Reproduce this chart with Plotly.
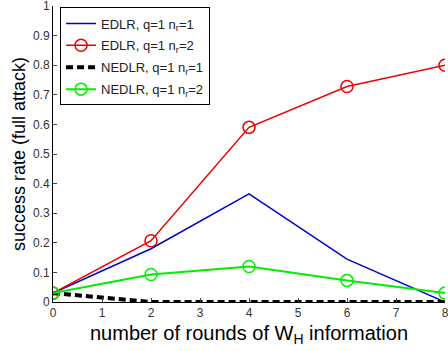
import plotly.graph_objects as go

rounds = [0, 2, 4, 6, 8]
edlr_nr1 = [0.03, 0.18, 0.365, 0.145, 0.0]
edlr_nr2 = [0.03, 0.207, 0.59, 0.728, 0.80]
nedlr_nr1 = [0.03, 0.0, 0.0, 0.0, 0.0]
nedlr_nr2 = [0.03, 0.093, 0.12, 0.073, 0.03]

x_ticks = [0, 1, 2, 3, 4, 5, 6, 7, 8]
y_ticks = [0, 0.1, 0.2, 0.3, 0.4, 0.5, 0.6, 0.7, 0.8, 0.9, 1]
y_tick_text = ["0", "0.1", "0.2", "0.3", "0.4", "0.5", "0.6", "0.7", "0.8", "0.9", "1"]

fig = go.Figure()
fig.add_trace(go.Scatter(x=rounds, y=edlr_nr1, mode="lines", legendgroup="a",
                         name="EDLR, q=1 n<sub>r</sub>=1",
                         line=dict(color="#0000cc", width=1.5)))
fig.add_trace(go.Scatter(x=rounds, y=edlr_nr2, mode="lines+markers", legendgroup="b",
                         name="EDLR, q=1 n<sub>r</sub>=2",
                         line=dict(color="#ee0000", width=1.5),
                         marker=dict(symbol="circle-open", size=12, color="#ee0000",
                                     line=dict(width=1.5, color="#ee0000"))))
fig.add_trace(go.Scatter(x=rounds, y=nedlr_nr1, mode="lines", legendgroup="c",
                         name="NEDLR, q=1 n<sub>r</sub>=1",
                         line=dict(color="black", width=4, dash="7px,4px")))
fig.add_trace(go.Scatter(x=rounds, y=nedlr_nr2, mode="lines+markers", legendgroup="d",
                         name="NEDLR, q=1 n<sub>r</sub>=2",
                         line=dict(color="#00ee00", width=2),
                         marker=dict(symbol="circle-open", size=12, color="#00ee00",
                                     line=dict(width=1.5, color="#00ee00"))))

fig.update_layout(
    width=448, height=351,
    margin=dict(l=53, r=3, t=6, b=49),
    paper_bgcolor="white", plot_bgcolor="white",
    font=dict(family="Liberation Sans, Arial, sans-serif", color="black"),
    showlegend=True,
    legend=dict(x=0.018, y=0.995, xanchor="left", yanchor="top",
                bgcolor="white", bordercolor="black", borderwidth=1,
                font=dict(size=13, color="#222"), tracegroupgap=2),
)
fig.update_xaxes(range=[0, 8], tickvals=x_ticks, ticks="inside", ticklen=4,
                 showline=True, linecolor="black", linewidth=1, mirror=False,
                 showgrid=False, zeroline=False, automargin=False,
                 ticklabeloverflow="allow",
                 tickfont=dict(size=12, color="#333"),
                 title=dict(text="number of rounds of W<sub>H</sub> information",
                            font=dict(size=20, color="black"), standoff=6))
fig.update_yaxes(range=[0, 1], tickvals=y_ticks, ticktext=y_tick_text,
                 ticks="inside", ticklen=4,
                 showline=True, linecolor="black", linewidth=1, mirror=False,
                 showgrid=False, zeroline=False, automargin=False,
                 ticklabeloverflow="allow",
                 tickfont=dict(size=12, color="#333"),
                 title=dict(text="success rate (full attack)",
                            font=dict(size=18, color="black"), standoff=2))

fig.write_html("out.html", config={"displayModeBar": False},
               post_script="document.body.style.margin='0';")
